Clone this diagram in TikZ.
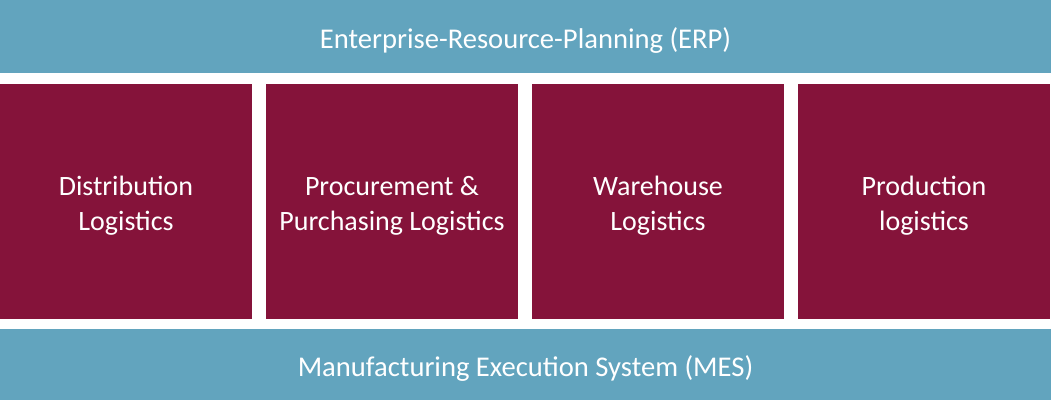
\documentclass[tikz,border=0pt]{standalone}
\usepackage{fontspec}
\setmainfont{Carlito}
\usepackage{xcolor}
\usepackage{tikz}
\usetikzlibrary{positioning}
\definecolor{erpblue}{RGB}{98,164,190}
\definecolor{logmaroon}{RGB}{133,19,58}

\begin{document}
\begin{tikzpicture}[
  every node/.style={text=white, inner sep=0pt, outer sep=0pt, align=center},
  bar/.style={fill=erpblue, minimum width=1051pt, font=\fontsize{28.6}{35}\selectfont, text height=23.4pt, text depth=0pt},
  logbox/.style={fill=logmaroon, minimum width=252pt, minimum height=235pt, font=\fontsize{28}{35}\selectfont, text height=57pt, text depth=0pt}]
  \useasboundingbox (0,0) rectangle (1051pt,-403pt);
  \node[bar, minimum height=73pt, anchor=north west] (erp) at (0,0) {Enterprise-Resource-Planning (ERP)};
  \node[logbox, below=11pt of erp.south west, anchor=north west] (dist) {Distribution\\Logistics};
  \node[logbox, right=14pt of dist] (proc) {Procurement \&\\Purchasing Logistics};
  \node[logbox, right=14pt of proc] (ware) {Warehouse\\Logistics};
  \node[logbox, right=14pt of ware] (prod) {Production\\logistics};
  \node[bar, minimum height=71pt, below=10pt of dist.south west, anchor=north west] (mes) {Manufacturing Execution System (MES)};
\end{tikzpicture}
\end{document}
